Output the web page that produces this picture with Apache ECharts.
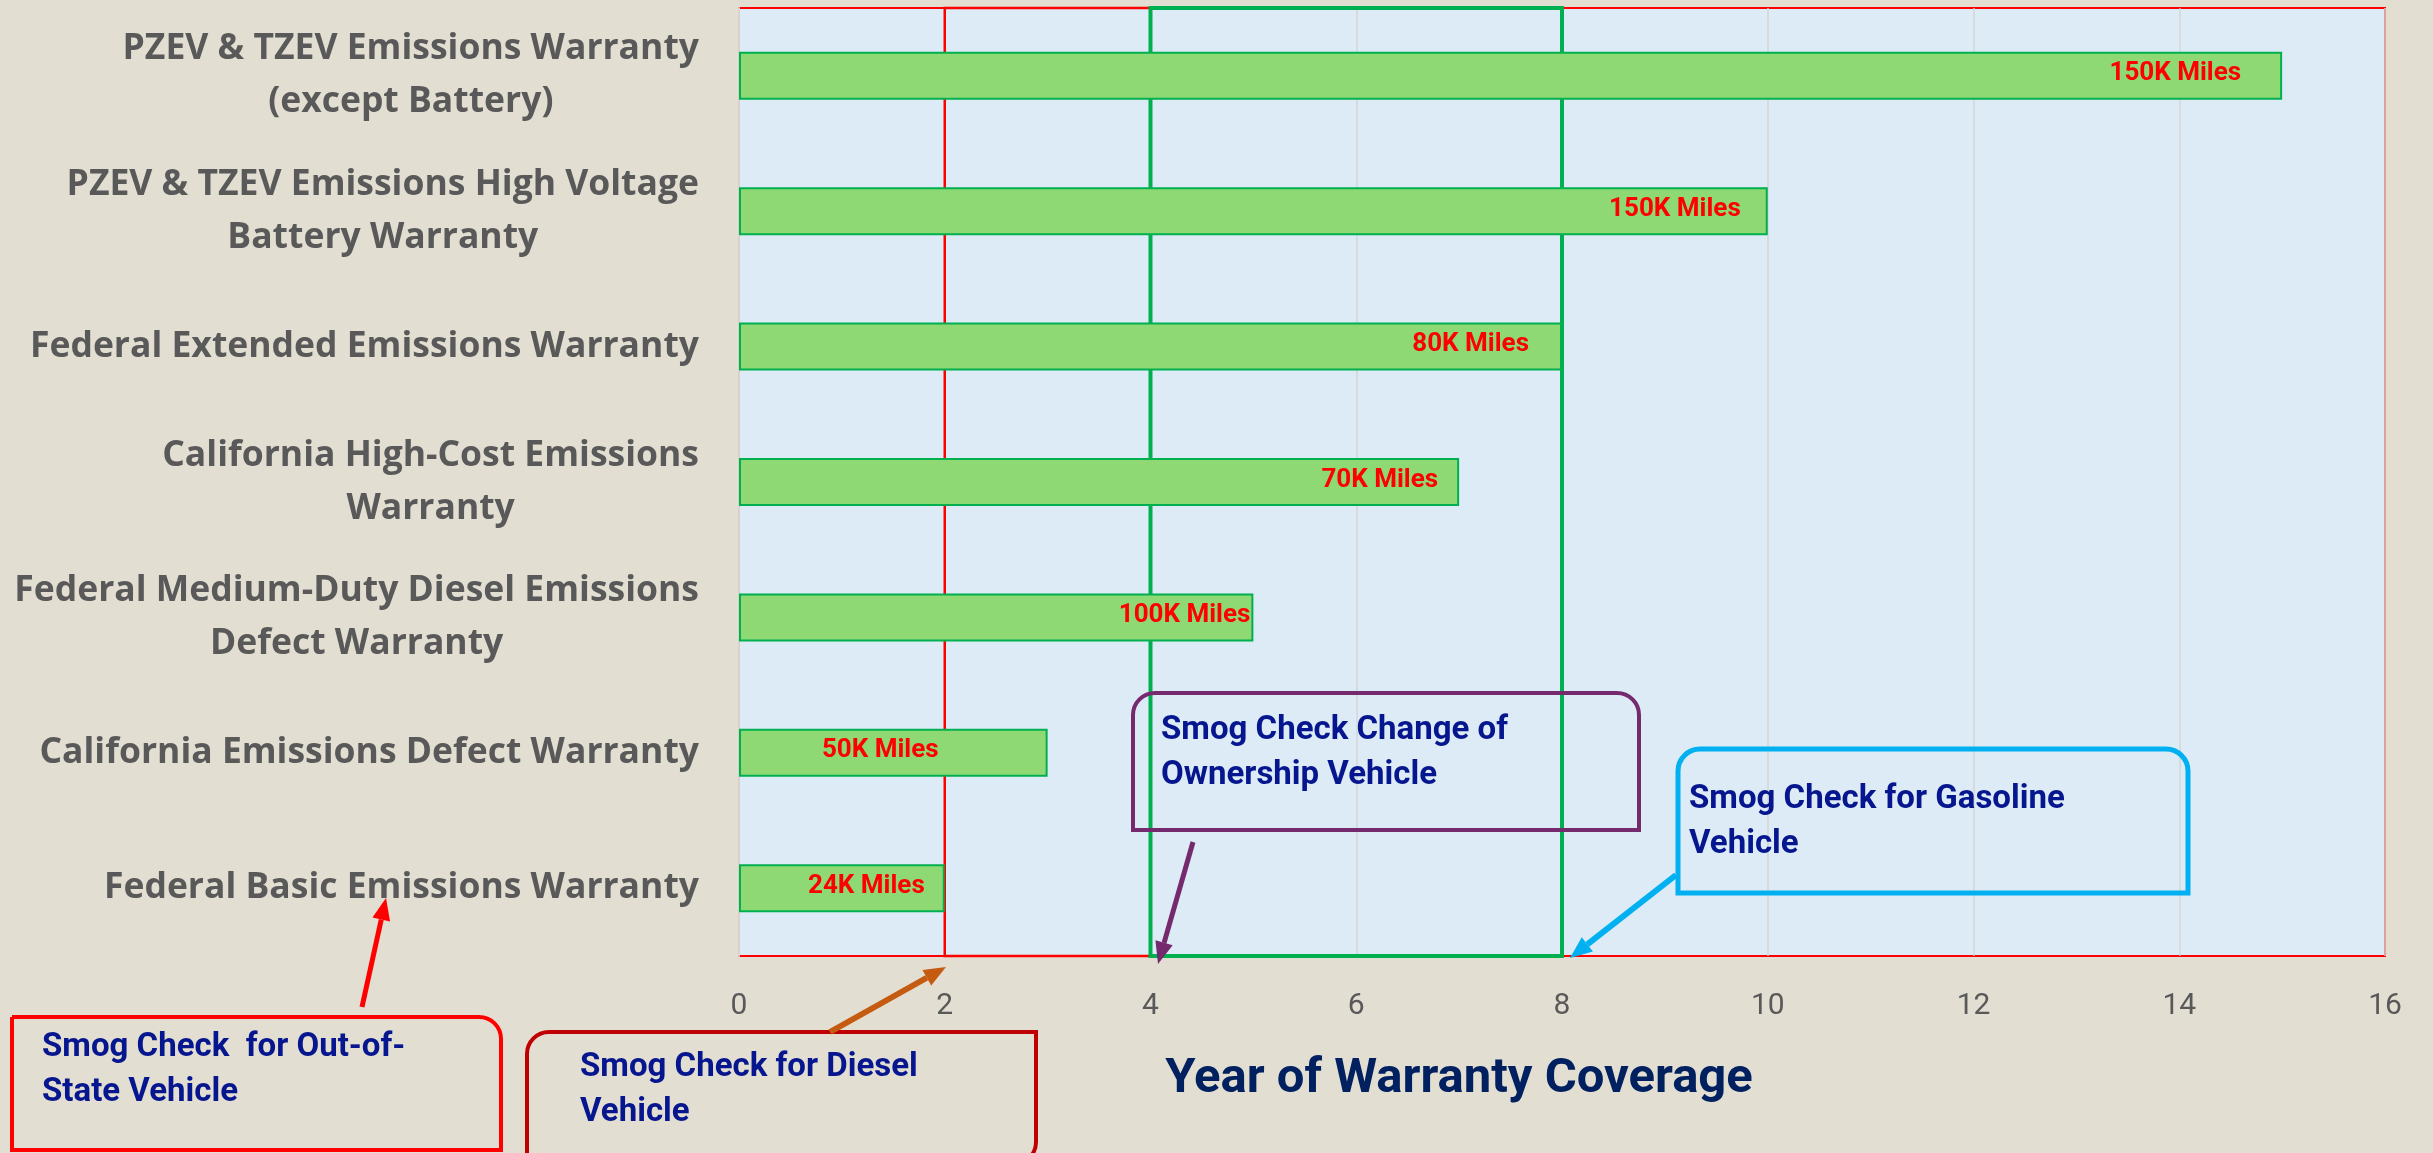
<!DOCTYPE html>
<html>
<head>
<meta charset="utf-8">
<script src="https://cdn.jsdelivr.net/npm/echarts@6/dist/echarts.min.js"></script>
<style>
html,body{margin:0;padding:0;background:#E3DED2;}
#chart{width:2433px;height:1153px;}
</style>
</head>
<body>
<div id="chart"></div>
<script>
// ---- data ----
const categories = [
  'PZEV & TZEV Emissions Warranty\n(except Battery)',
  'PZEV & TZEV Emissions High Voltage\nBattery Warranty',
  'Federal Extended Emissions Warranty',
  'California High-Cost Emissions\nWarranty',
  'Federal Medium-Duty Diesel Emissions\nDefect Warranty',
  'California Emissions Defect Warranty',
  'Federal Basic Emissions Warranty'
];
const warrantyYears = [15, 10, 8, 7, 5, 3, 2];
const mileageLabels = ['150K Miles', '150K Miles', '80K Miles', '70K Miles', '100K Miles', '50K Miles', '24K Miles'];
const xAxisMin = 0;
const xAxisMax = 16;
const xAxisStep = 2;
const dieselRange = [2, 4];
const ownershipRange = [4, 8];
const axisTitle = 'Year of Warranty Coverage';
const calloutTexts = [
  'Smog Check  for Out-of-\nState Vehicle',
  'Smog Check for Diesel\nVehicle',
  'Smog Check Change of\nOwnership Vehicle',
  'Smog Check for Gasoline\nVehicle'
];

// ---- layout / style (not data) ----
const FONT = 'Roboto, "Liberation Sans", sans-serif';
const CAT_FONT = '"Open Sans", Roboto, sans-serif';
const labelGap = [41, 27, 33, 21, 3, 109, 20];
const textColor = '#06168E';

const chart = echarts.init(document.getElementById('chart'), null, {renderer: 'canvas'});

function arrow(x1, y1, x2, y2, color, w) {
  const ang = Math.atan2(y2 - y1, x2 - x1);
  const hl = 22, hw = 9;
  const bx = x2 - hl * Math.cos(ang), by = y2 - hl * Math.sin(ang);
  const px = -Math.sin(ang), py = Math.cos(ang);
  return [
    {type: 'line', z: 100, shape: {x1: x1, y1: y1, x2: bx, y2: by}, style: {stroke: color, lineWidth: w}},
    {type: 'polygon', z: 100, shape: {points: [[x2, y2], [bx + px * hw, by + py * hw], [bx - px * hw, by - py * hw]]}, style: {fill: color}}
  ];
}
function box(x, y, w, h, r, color, lw) {
  return {type: 'rect', z: 100, shape: {x: x, y: y, width: w, height: h, r: r}, style: {fill: 'none', stroke: color, lineWidth: lw}};
}
function txt(x, y, t) {
  return {type: 'text', z: 101, style: {x: x, y: y, text: t, font: 'bold 33px ' + FONT, fill: textColor, lineHeight: 45, textVerticalAlign: 'top'}};
}

const option = {
  backgroundColor: '#E3DED2',
  animation: false,
  grid: {
    left: 739, right: 48, top: 8, bottom: 197,
    show: true, backgroundColor: '#DDEBF7', borderColor: '#FF0000', borderWidth: 2
  },
  xAxis: {
    type: 'value', min: xAxisMin, max: xAxisMax, interval: xAxisStep,
    axisLine: {show: false}, axisTick: {show: false},
    splitLine: {show: true, lineStyle: {color: '#D6D6D6', width: 1.5}},
    axisLabel: {fontSize: 30, color: '#595959', margin: 35, fontFamily: FONT},
    name: axisTitle, nameLocation: 'middle', nameGap: 99,
    nameTextStyle: {fontSize: 49, fontWeight: 'bold', color: '#002060', fontFamily: FONT, padding: [0, 206, 0, 0]}
  },
  yAxis: {
    type: 'category', inverse: true, data: categories,
    axisLine: {show: true, lineStyle: {color: '#D9D2CC', width: 2}},
    axisTick: {show: false},
    splitLine: {show: false},
    axisLabel: {
      margin: 40, align: 'right',
      formatter: function (v) { return v.split('\n').map(function (s) { return '{c|' + s + '}'; }).join('\n'); },
      rich: {c: {align: 'center', fontSize: 35.5, fontWeight: 'bold', color: '#595959', lineHeight: 53, fontFamily: CAT_FONT}}
    }
  },
  series: [
    {
      type: 'bar',
      data: warrantyYears.map(function (v, i) {
        return {value: v, label: {offset: [-labelGap[i], -2], formatter: mileageLabels[i]}};
      }),
      barWidth: 48,
      itemStyle: {color: '#8ED973', borderColor: '#00B050', borderWidth: 2},
      label: {show: true, position: 'insideRight', distance: 0, color: '#FF0000', fontWeight: 'bold', fontSize: 26, fontFamily: FONT},
      emphasis: {disabled: true},
      z: 2
    },
    {
      type: 'line', data: [], z: 5, silent: true,
      markArea: {
        silent: true,
        label: {show: false},
        emphasis: {disabled: true},
        data: [
          [{xAxis: dieselRange[0], itemStyle: {color: 'rgba(0,0,0,0)', borderColor: '#FF0000', borderWidth: 2.5}}, {xAxis: dieselRange[1]}],
          [{xAxis: ownershipRange[0], itemStyle: {color: 'rgba(0,0,0,0)', borderColor: '#00B050', borderWidth: 4}}, {xAxis: ownershipRange[1]}]
        ]
      }
    }
  ],
  graphic: [].concat(
    [box(12, 1017, 489, 133, [0, 22, 0, 0], '#FF0000', 4), txt(42, 1025, calloutTexts[0])],
    arrow(362, 1007, 386, 898, '#FF0000', 5),
    [box(527, 1032, 509, 132, [22, 0, 22, 0], '#C00000', 4), txt(580, 1045, calloutTexts[1])],
    arrow(830, 1032, 946, 967, '#C55A11', 6),
    [box(1133, 693, 506, 137, [22, 22, 0, 0], '#762A6E', 4), txt(1161, 708, calloutTexts[2])],
    arrow(1193, 842, 1158, 964, '#762A6E', 5),
    [box(1678, 749, 510, 144, [22, 22, 0, 0], '#00B0F0', 5), txt(1689, 777, calloutTexts[3])],
    arrow(1676, 875, 1570, 958, '#00B0F0', 6)
  )
};
chart.setOption(option);
</script>
</body>
</html>
